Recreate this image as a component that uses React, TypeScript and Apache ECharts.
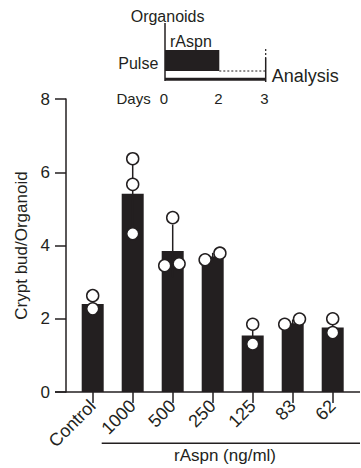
import React, { useEffect, useRef } from "react";
import * as echarts from "echarts";

const categories = ["Control", "1000", "500", "250", "125", "83", "62"];
const means = [2.4, 5.41, 3.85, 3.7, 1.54, 1.88, 1.76];
const sds = [0.18, 0.95, 0.72, 0.1, 0.3, 0.1, 0.2];
const pointCategory = [0, 0, 1, 1, 1, 2, 2, 2, 3, 3, 4, 4, 5, 5, 6, 6];
const pointJitter = [0, 0, 0, 0, 0, 0, -0.2, 0.16, -0.19, 0.18, 0, 0, -0.2, 0.17, 0, 0];
const pointValues = [2.63, 2.27, 6.37, 5.67, 4.32, 4.76, 3.45, 3.5, 3.61, 3.79, 1.85, 1.31, 1.85, 1.99, 2.0, 1.62];
const yTicks = { min: 0, max: 8, interval: 2 };
const yName = "Crypt bud/Organoid";
const xGroupName = "rAspn (ng/ml)";
const dayLabels = ["0", "2", "3"];

const FONT = "'Liberation Sans', Arial, Helvetica, sans-serif";
const INK = "#231f20";

export default function App() {
  const ref = useRef<HTMLDivElement>(null);
  useEffect(() => {
    document.body.style.margin = "0";
    const chart = echarts.init(ref.current!, null, { renderer: "svg" });
    const txt = (text: string, x: number, y: number, size: number, align = "left") => ({
      type: "text",
      style: { text, x, y, fill: INK, fontSize: size, fontFamily: FONT, textAlign: align, textVerticalAlign: "middle" },
      z: 10,
    });
    const ln = (x1: number, y1: number, x2: number, y2: number, w: number, dash?: number[]) => ({
      type: "line",
      shape: { x1, y1, x2, y2 },
      style: { stroke: INK, lineWidth: w, lineDash: dash },
      z: 10,
    });
    const errData = means.map((m, i) => [i, m - sds[i], m + sds[i]]);
    chart.setOption({
      animation: false,
      grid: { left: 72.7, top: 99, width: 280, height: 293, containLabel: false },
      xAxis: [
        {
          type: "category",
          data: categories,
          axisLine: { show: false, onZero: false },
          axisTick: { show: true, alignWithLabel: true, length: 11, lineStyle: { color: INK, width: 1.5 } },
          axisLabel: { rotate: 45, margin: 11, fontSize: 18, fontFamily: FONT, color: INK, interval: 0 },
          splitLine: { show: false },
        },
        {
          type: "value",
          min: -0.5,
          max: 6.5,
          show: false,
          axisLine: { show: false, onZero: false },
          splitLine: { show: false },
        },
      ],
      yAxis: {
        type: "value",
        min: yTicks.min,
        max: yTicks.max,
        interval: yTicks.interval,
        offset: 6.7,
        name: yName,
        nameLocation: "middle",
        nameGap: 33,
        nameTextStyle: { fontSize: 17, fontFamily: FONT, color: INK },
        axisLine: { show: true, onZero: false, lineStyle: { color: INK, width: 1.5 } },
        axisTick: { show: true, length: 11, lineStyle: { color: INK, width: 1.5 } },
        axisLabel: { margin: 16, fontSize: 17, fontFamily: FONT, color: INK },
        splitLine: { show: false },
      },
      series: [
        {
          type: "bar",
          data: means,
          barWidth: 22,
          itemStyle: { color: INK },
          z: 1,
        },
        {
          type: "custom",
          xAxisIndex: 0,
          yAxisIndex: 0,
          encode: { x: 0, y: [1, 2] },
          data: errData,
          renderItem: (params: any, api: any) => {
            const i = api.value(0);
            const top = api.coord([i, api.value(2)]);
            const bot = api.coord([i, api.value(1)]);
            return {
              type: "line",
              shape: { x1: top[0], y1: top[1], x2: bot[0], y2: bot[1] },
              style: { stroke: INK, lineWidth: 1.5 },
            };
          },
          z: 2,
        },
        {
          type: "scatter",
          xAxisIndex: 1,
          data: pointValues.map((v, k) => [pointCategory[k] + pointJitter[k], v]),
          symbol: "circle",
          symbolSize: 12,
          itemStyle: { color: "#fff", borderColor: INK, borderWidth: 1.5, opacity: 1 },
          z: 3,
        },
      ],
      graphic: [
        ln(55, 392, 360, 392, 1.5),
        ln(101.7, 443.3, 360, 443.3, 1.5),
        txt(xGroupName, 225, 455, 17, "center"),
        // inset
        txt("Organoids", 130.7, 16.2, 16),
        ln(165, 23, 165, 81, 1.5),
        txt("rAspn", 170, 41.2, 16),
        { type: "rect", shape: { x: 165, y: 50, width: 54.3, height: 21 }, style: { fill: INK }, z: 10 },
        txt("Pulse", 118.3, 63, 16),
        ln(219.3, 71, 265.7, 71, 1, [2, 2]),
        ln(165, 79.3, 265.7, 79.3, 3),
        ln(265.7, 49, 265.7, 58, 1.2, [2, 2]),
        ln(265.7, 58, 265.7, 82, 1.5),
        txt("Analysis", 271.7, 76, 18),
        txt("Days", 116.5, 98.3, 15),
        txt(dayLabels[0], 164, 98.3, 15, "center"),
        txt(dayLabels[1], 218.3, 98.3, 15, "center"),
        txt(dayLabels[2], 264.5, 98.3, 15, "center"),
      ],
    });
    return () => chart.dispose();
  }, []);
  return <div ref={ref} style={{ width: 361, height: 468 }} />;
}
